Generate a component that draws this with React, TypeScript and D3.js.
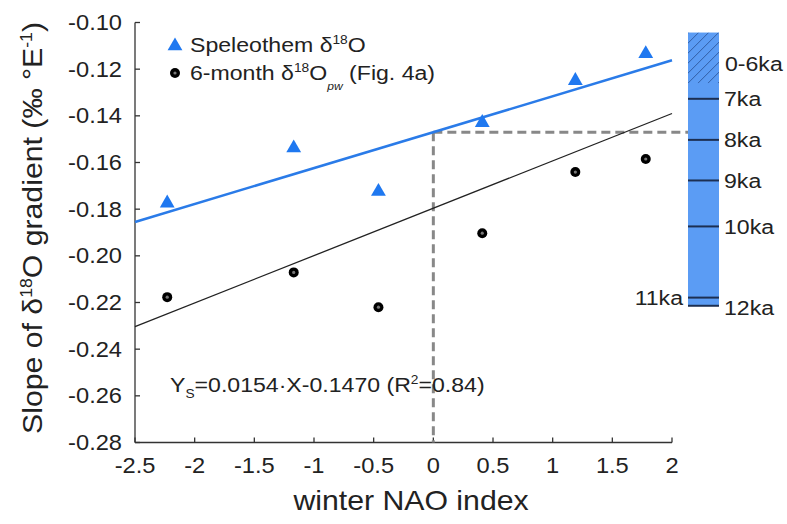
import React from "react";
import * as d3 from "d3";

const naoIndex = [-2.23, -1.17, -0.46, 0.41, 1.19, 1.78];
const speleothemSlope = [-0.1774, -0.1538, -0.1724, -0.1429, -0.1249, -0.1134];
const pw6Slope = [-0.2177, -0.2071, -0.222, -0.1903, -0.1641, -0.1585];
const speleoFit = { slope: 0.0154, intercept: -0.147 };
const pwFit = { slope: 0.0203, intercept: -0.1796 };
const yTicks = [-0.1, -0.12, -0.14, -0.16, -0.18, -0.2, -0.22, -0.24, -0.26, -0.28];
const xTicks = [-2.5, -2, -1.5, -1, -0.5, 0, 0.5, 1, 1.5, 2];
const barTop = -0.1043;
const hatchEnd = -0.126;
const ageLabels = ["7ka", "8ka", "9ka", "10ka", "11ka", "12ka"];
const ageSlope = [-0.1327, -0.1503, -0.1677, -0.1874, -0.2179, -0.2214];

const W = 787;
const H = 524;
const FONT = "'Liberation Sans', Arial, sans-serif";
const SX = 1.1;

function T(props: {
  x: number;
  y: number;
  size: number;
  anchor?: string;
  rotate?: number;
  children: React.ReactNode;
}) {
  const { x, y, size, anchor = "start", rotate = 0, children } = props;
  return (
    <text
      transform={`translate(${x},${y}) rotate(${rotate}) scale(${SX},1)`}
      dy="0.35em"
      textAnchor={anchor}
      fontSize={size}
      fill="#222"
    >
      {children}
    </text>
  );
}

export default function App() {
  const x = d3.scaleLinear().domain([-2.5, 2]).range([135, 672]);
  const y = d3.scaleLinear().domain([-0.28, -0.1]).range([442.5, 22.5]);
  const barX0 = 688;
  const barX1 = 719;
  const blue = "#2a7be8";
  const triBlue = "#1f78f0";
  const line = d3.line<[number, number]>().x((d) => x(d[0])).y((d) => y(d[1]));
  const fitPts = (f: { slope: number; intercept: number }): [number, number][] =>
    [-2.5, 2].map((v) => [v, f.slope * v + f.intercept]);
  const tri = d3.symbol().type(d3.symbolTriangle).size(95)();
  const cross0 = speleoFit.intercept;

  const hatchTopY = y(barTop);
  const hatchBotY = y(hatchEnd);

  return (
    <svg width={W} height={H} style={{ position: "absolute", left: 0, top: 0, background: "#fff" }} fontFamily={FONT}>
      <defs>
        <clipPath id="hatchClip">
          <rect x={barX0} y={hatchTopY} width={barX1 - barX0} height={hatchBotY - hatchTopY} />
        </clipPath>
      </defs>
      {/* axes */}
      <line x1={x(-2.5)} x2={x(-2.5)} y1={y(-0.1)} y2={y(-0.28)} stroke="#333" strokeWidth={1.3} />
      <line x1={x(-2.5)} x2={x(2)} y1={y(-0.28)} y2={y(-0.28)} stroke="#333" strokeWidth={1.3} />
      {yTicks.map((t) => (
        <g key={"y" + t}>
          <line x1={x(-2.5)} x2={x(-2.5) + 5} y1={y(t)} y2={y(t)} stroke="#333" strokeWidth={1.3} />
          <T x={122} y={y(t)} anchor="end" size={21.5}>
            {t.toFixed(2)}
          </T>
        </g>
      ))}
      {xTicks.map((t) => (
        <g key={"x" + t}>
          <line x1={x(t)} x2={x(t)} y1={y(-0.28)} y2={y(-0.28) - 5} stroke="#333" strokeWidth={1.3} />
          <T x={x(t)} y={465} anchor="middle" size={21.5}>
            {String(t)}
          </T>
        </g>
      ))}
      <T x={411} y={500} anchor="middle" size={27.5}>
        winter NAO index
      </T>
      <T x={32} y={228} anchor="middle" size={27.5} rotate={-90}>
        Slope of δ
        <tspan fontSize={16} dy="-10">18</tspan>
        <tspan dy="10">O gradient (‰ °E</tspan>
        <tspan fontSize={16} dy="-10">-1</tspan>
        <tspan dy="10">)</tspan>
      </T>

      {/* dashed guide lines */}
      <line x1={x(0)} x2={x(0)} y1={y(cross0)} y2={y(-0.28)} stroke="#888" strokeWidth={3} strokeDasharray="9,5" />
      <line x1={x(0)} x2={barX0} y1={y(cross0)} y2={y(cross0)} stroke="#888" strokeWidth={3} strokeDasharray="9,5" />

      {/* fit lines */}
      <path d={line(fitPts(pwFit)) || ""} stroke="#222" strokeWidth={1.3} fill="none" />
      <path d={line(fitPts(speleoFit)) || ""} stroke={blue} strokeWidth={2.5} fill="none" />

      {/* points */}
      {naoIndex.map((v, i) => (
        <path key={"t" + i} d={tri || ""} transform={`translate(${x(v)},${y(speleothemSlope[i])})`} fill={triBlue} />
      ))}
      {naoIndex.map((v, i) => (
        <g key={"c" + i}>
          <circle cx={x(v)} cy={y(pw6Slope[i])} r={5} fill="#000" />
          <circle cx={x(v)} cy={y(pw6Slope[i])} r={1.6} fill="#777" />
        </g>
      ))}

      {/* legend */}
      <path d={tri || ""} transform="translate(175,46)" fill={triBlue} />
      <T x={190} y={45} size={21}>
        Speleothem δ<tspan fontSize={12.5} dy="-8">18</tspan>
        <tspan dy="8">O</tspan>
      </T>
      <circle cx={175} cy={73} r={5} fill="#000" />
      <circle cx={175} cy={73} r={1.6} fill="#777" />
      <T x={190} y={73} size={21}>
        6-month δ<tspan fontSize={12.5} dy="-8">18</tspan>
        <tspan dy="8">O</tspan>
        <tspan fontSize={11} dy="10" fontStyle="italic">pw</tspan>
        <tspan dy="-10"> (Fig. 4a)</tspan>
      </T>

      {/* equation */}
      <T x={170} y={385} size={21}>
        Y<tspan fontSize={12.5} dy="6">S</tspan>
        <tspan dy="-6">=0.0154·X-0.1470 (R</tspan>
        <tspan fontSize={12.5} dy="-8">2</tspan>
        <tspan dy="8">=0.84)</tspan>
      </T>

      {/* age bar */}
      <rect x={barX0} y={y(barTop)} width={barX1 - barX0} height={y(ageSlope[ageSlope.length - 1]) - y(barTop)} fill="#5b9cf4" />
      <g clipPath="url(#hatchClip)">
        {d3.range(-6, 6).map((k) => (
          <line
            key={"h" + k}
            x1={barX0 + k * 10}
            y1={hatchBotY}
            x2={barX0 + k * 10 + (hatchBotY - hatchTopY)}
            y2={hatchTopY}
            stroke="#2a4f8f"
            strokeWidth={0.8}
          />
        ))}
      </g>
      {ageSlope.map((v, i) => (
        <line key={"a" + i} x1={barX0} x2={barX1} y1={y(v)} y2={y(v)} stroke="#1c2f52" strokeWidth={2} />
      ))}
      <T x={725} y={(y(barTop) + y(hatchEnd)) / 2 + 6} size={21}>
        0-6ka
      </T>
      {ageLabels.map((lab, i) =>
        lab === "11ka" ? (
          <T key={lab} x={683} y={y(ageSlope[i])} anchor="end" size={21}>
            {lab}
          </T>
        ) : (
          <T key={lab} x={724} y={y(ageSlope[i]) + (lab === "12ka" ? 2 : 0)} size={21}>
            {lab}
          </T>
        )
      )}
    </svg>
  );
}
